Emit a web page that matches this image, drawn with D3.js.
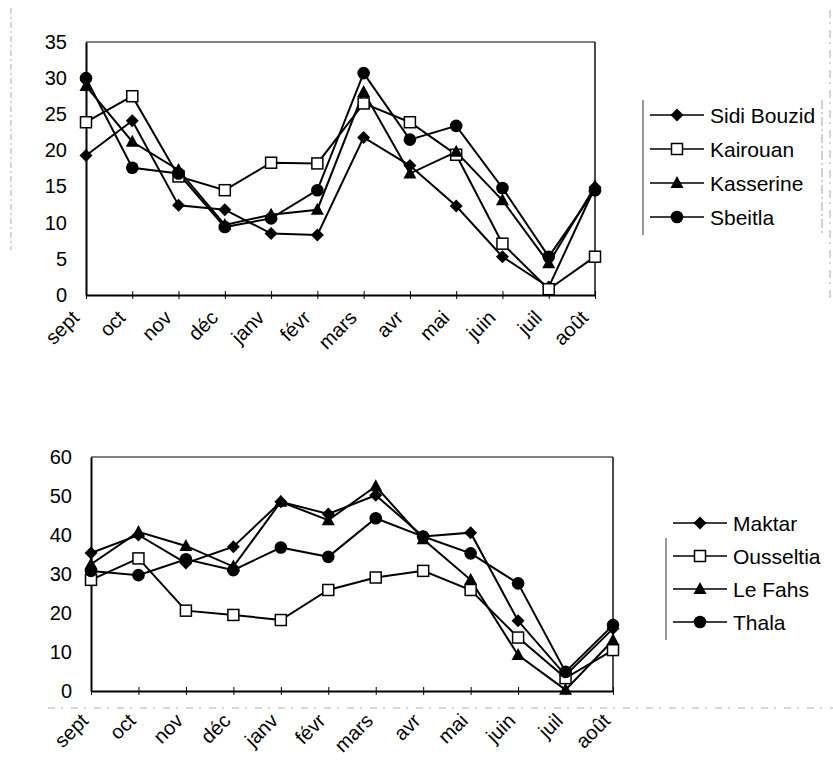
<!DOCTYPE html>
<meta charset="utf-8">
<style>
  body { margin: 0; background: #fff; }
  svg text { font-family: "Liberation Sans", Arial, sans-serif; fill: #000; }
</style>

<svg width="833" height="772"></svg>
<script src="https://cdn.jsdelivr.net/npm/d3@7/dist/d3.min.js"></script>
<script>

    // month categories, shared by both charts
    var months = ["sept", "oct", "nov", "déc", "janv", "févr", "mars", "avr", "mai", "juin", "juil", "août"];

    // top chart series
    var topNames = ["Sidi Bouzid", "Kairouan", "Kasserine", "Sbeitla"];
    var sidiBouzid = [19.3, 24.1, 12.4, 11.8, 8.5, 8.3, 21.8, 17.9, 12.3, 5.3, 1.1, 14.9];
    var kairouan   = [23.9, 27.5, 16.4, 14.5, 18.3, 18.2, 26.5, 23.9, 19.4, 7.1, 0.8, 5.3];
    var kasserine  = [28.9, 21.2, 17.3, 9.7, 11.1, 11.8, 28.1, 16.8, 19.8, 13.1, 4.4, 15.0];
    var sbeitla    = [30.0, 17.6, 16.8, 9.4, 10.6, 14.5, 30.7, 21.5, 23.4, 14.8, 5.3, 14.5];
    var topTicks = [0, 5, 10, 15, 20, 25, 30, 35];

    // bottom chart series
    var bottomNames = ["Maktar", "Ousseltia", "Le Fahs", "Thala"];
    var maktar    = [35.4, 40.0, 32.8, 37.0, 48.5, 45.4, 50.2, 39.6, 40.6, 18.0, 4.0, 16.0];
    var ousseltia = [28.5, 34.0, 20.6, 19.5, 18.2, 25.9, 29.1, 30.8, 25.9, 13.7, 3.3, 10.5];
    var leFahs    = [32.5, 40.8, 37.2, 31.9, 48.5, 43.8, 52.5, 38.9, 28.5, 9.2, 0.3, 13.0];
    var thala     = [30.8, 29.7, 33.8, 31.0, 36.8, 34.4, 44.3, 39.6, 35.3, 27.6, 4.9, 16.9];
    var bottomTicks = [0, 10, 20, 30, 40, 50, 60];

    var markerKinds = ["diamond", "square", "triangle", "circle"];

    var svg = d3.select("svg");

    // faint scan marks of the original page
    var scan = svg.append("g").attr("class", "scan")
        .attr("stroke", "#999").attr("fill", "none");
    scan.append("line").attr("x1", 11).attr("x2", 11).attr("y1", 8).attr("y2", 250)
        .attr("stroke-dasharray", "6,3,2,3").attr("stroke-width", 0.8);
    scan.append("line").attr("x1", 830).attr("x2", 830).attr("y1", 10).attr("y2", 300)
        .attr("stroke-dasharray", "8,4,2,6").attr("stroke-width", 0.8);
    scan.append("line").attr("x1", 48).attr("x2", 833).attr("y1", 708).attr("y2", 708)
        .attr("stroke-dasharray", "7,6,2,8").attr("stroke-width", 0.8);

    function addMarker(sel, kind) {
        if (kind == "diamond") {
            sel.append("path").attr("d", "M0,-6.5L6.5,0L0,6.5L-6.5,0Z").attr("fill", "#000");
        }
        else if (kind == "square") {
            sel.append("rect").attr("x", -5.5).attr("y", -5.5).attr("width", 11).attr("height", 11)
                .attr("fill", "#fff").attr("stroke", "#000").attr("stroke-width", 1.5);
        }
        else if (kind == "triangle") {
            sel.append("path").attr("d", "M0,-7L6.5,5L-6.5,5Z").attr("fill", "#000");
        }
        else {
            sel.append("circle").attr("r", 6.3).attr("fill", "#000");
        }
    }

    function drawChart(o) {
        var g = svg.append("g");

        var x = d3.scalePoint().domain(months).range([o.left, o.right]);
        var y = d3.scaleLinear().domain([0, o.max]).range([o.bottom, o.top]);

        // frame: top and right thinner
        g.append("line").attr("x1", o.left).attr("x2", o.right).attr("y1", o.top).attr("y2", o.top)
            .attr("stroke", "#000").attr("stroke-width", 1.2);
        g.append("line").attr("x1", o.right).attr("x2", o.right).attr("y1", o.top).attr("y2", o.bottom)
            .attr("stroke", "#000").attr("stroke-width", 1.4);

        var yAxis = g.append("g")
            .attr("transform", "translate(" + o.left + ",0)")
            .call(d3.axisLeft(y).tickValues(o.ticks).tickSize(0).tickPadding(19));
        yAxis.select(".domain").attr("stroke-width", 2);
        yAxis.selectAll("text").style("font-size", "20px")
            .style("font-family", "'Liberation Sans', Arial, sans-serif");

        var xAxis = g.append("g")
            .attr("transform", "translate(0," + o.bottom + ")")
            .call(d3.axisBottom(x).tickSize(4).tickSizeOuter(0));
        xAxis.select(".domain").attr("stroke-width", 2);
        xAxis.selectAll(".tick line").attr("y1", -4).attr("stroke-width", 1);
        xAxis.selectAll(".tick text")
            .style("font-size", "20px")
            .style("font-family", "'Liberation Sans', Arial, sans-serif")
            .attr("text-anchor", "end")
            .attr("x", null).attr("y", null).attr("dy", null)
            .attr("transform", "translate(" + o.labelDx + "," + o.labelDy + ") rotate(-45)");

        var line = d3.line()
            .x(function(d, i) { return x(months[i]); })
            .y(function(d) { return y(d); });

        // lines first, then markers on top
        o.series.forEach(function(s) {
            g.append("path").datum(s).attr("d", line)
                .attr("fill", "none").attr("stroke", "#000").attr("stroke-width", 2);
        });
        o.series.forEach(function(s, k) {
            g.append("g").selectAll("g").data(s).enter().append("g")
                .attr("transform", function(d, i) { return "translate(" + x(months[i]) + "," + y(d) + ")"; })
                .each(function() { addMarker(d3.select(this), markerKinds[k]); });
        });

        // legend
        var lg = g.append("g");
        lg.append("line").attr("x1", o.legX).attr("x2", o.legX).attr("y1", o.legBoxTop).attr("y2", o.legBoxBottom)
            .attr("stroke", "#333").attr("stroke-width", 1);
        if (o.legRight) {
            lg.append("line").attr("x1", o.legRight).attr("x2", o.legRight).attr("y1", o.legBoxTop).attr("y2", o.legBoxBottom)
                .attr("stroke", "#999").attr("stroke-width", 0.9).attr("stroke-dasharray", "9,3,2,3");
        }
        o.names.forEach(function(name, k) {
            var ly = o.legY + k * o.legStep;
            var row = lg.append("g").attr("transform", "translate(0," + ly + ")");
            row.append("line").attr("x1", o.legX + 7).attr("x2", o.legX + 61).attr("y1", 0).attr("y2", 0)
                .attr("stroke", "#000").attr("stroke-width", 1.3);
            addMarker(row.append("g").attr("transform", "translate(" + (o.legX + 34) + ",0)"), markerKinds[k]);
            row.append("text").attr("x", o.legX + 67).attr("y", 0).attr("dy", "0.36em")
                .style("font-size", "21px").text(name);
        });
    }

    drawChart({
        left: 86, right: 595, top: 42, bottom: 295, max: 35,
        ticks: topTicks,
        series: [sidiBouzid, kairouan, kasserine, sbeitla],
        names: topNames,
        labelDx: -6, labelDy: 24,
        legX: 643, legRight: 822, legBoxTop: 100, legBoxBottom: 235,
        legY: 115, legStep: 34
    });

    drawChart({
        left: 91, right: 613, top: 457, bottom: 691, max: 60,
        ticks: bottomTicks,
        series: [maktar, ousseltia, leFahs, thala],
        names: bottomNames,
        labelDx: -2, labelDy: 31,
        legX: 666, legRight: null, legBoxTop: 538, legBoxBottom: 640,
        legY: 523, legStep: 33
    });
</script>
